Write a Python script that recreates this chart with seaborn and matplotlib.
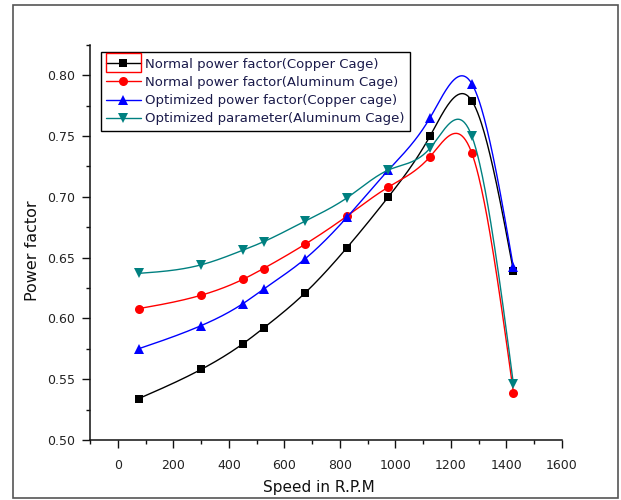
import numpy as np
import pandas as pd
import matplotlib
matplotlib.use("Agg")
import matplotlib.pyplot as plt
from matplotlib.lines import Line2D
from matplotlib.patches import Rectangle
from matplotlib.ticker import MultipleLocator
import seaborn as sns

# ---- data ----
speed = [75, 300, 450, 525, 675, 825, 975, 1125, 1275, 1425]
normal_copper = [0.534, 0.558, 0.579, 0.592, 0.621, 0.658, 0.700, 0.750, 0.779, 0.639]
normal_aluminum = [0.608, 0.619, 0.632, 0.641, 0.661, 0.684, 0.708, 0.733, 0.736, 0.539]
optimized_copper = [0.575, 0.594, 0.612, 0.624, 0.649, 0.683, 0.722, 0.765, 0.793, 0.642]
optimized_aluminum = [0.637, 0.644, 0.656, 0.663, 0.680, 0.699, 0.722, 0.740, 0.750, 0.546]

labels = ["Normal power factor(Copper Cage)",
          "Normal power factor(Aluminum Cage)",
          "Optimized power factor(Copper cage)",
          "Optimized parameter(Aluminum Cage)"]
colors = ["#000000", "#FF0000", "#0000FF", "#008080"]
markers = ["s", "o", "^", "v"]
series = [normal_copper, normal_aluminum, optimized_copper, optimized_aluminum]

x_ticks = [0, 200, 400, 600, 800, 1000, 1200, 1400, 1600]
y_ticks = [0.50, 0.55, 0.60, 0.65, 0.70, 0.75, 0.80]


def natural_spline(x, y, n=400):
    x = np.asarray(x, float)
    y = np.asarray(y, float)
    k = len(x)
    h = np.diff(x)
    A = np.zeros((k, k))
    b = np.zeros(k)
    A[0, 0] = 1
    A[-1, -1] = 1
    for i in range(1, k - 1):
        A[i, i - 1] = h[i - 1]
        A[i, i] = 2 * (h[i - 1] + h[i])
        A[i, i + 1] = h[i]
        b[i] = 6 * ((y[i + 1] - y[i]) / h[i] - (y[i] - y[i - 1]) / h[i - 1])
    M = np.linalg.solve(A, b)
    xs = np.linspace(x[0], x[-1], n)
    idx = np.clip(np.searchsorted(x, xs) - 1, 0, k - 2)
    x0, x1 = x[idx], x[idx + 1]
    hh = x1 - x0
    t0, t1 = x1 - xs, xs - x0
    ys = (M[idx] * t0 ** 3 / (6 * hh) + M[idx + 1] * t1 ** 3 / (6 * hh)
          + (y[idx] / hh - M[idx] * hh / 6) * t0
          + (y[idx + 1] / hh - M[idx + 1] * hh / 6) * t1)
    return xs, ys


sns.set_theme(style="ticks")
plt.rcParams["font.family"] = ["DejaVu Sans"]

fig = plt.figure(figsize=(6.21, 5.0), dpi=100)
ax = fig.add_axes([90 / 621, 1 - 440 / 500, 472 / 621, (440 - 44.7) / 500])

handles = []
for ys_, lab, col, mk in zip(series, labels, colors, markers):
    sx, sy = natural_spline(speed, ys_)
    smooth = pd.DataFrame({"x": sx, "y": sy})
    pts = pd.DataFrame({"x": speed, "y": ys_})
    sns.lineplot(data=smooth, x="x", y="y", ax=ax, color=col, lw=1.0,
                 sort=False, estimator=None, legend=False)
    ms = 7.0 if mk in ("^", "v") else (6.5 if mk == "o" else 6.0)
    sns.lineplot(data=pts, x="x", y="y", ax=ax, color=col, lw=0,
                 marker=mk, markersize=ms, markeredgewidth=0,
                 estimator=None, legend=False)
    handles.append(Line2D([0], [0], color=col, lw=1.0, marker=mk,
                          markersize=ms, markeredgewidth=0))

ax.set_xlim(-100, 1600)
ax.set_ylim(0.50, 0.825)
ax.set_xticks(x_ticks)
ax.set_yticks(y_ticks)
ax.set_xticklabels([str(v) for v in x_ticks])
ax.set_yticklabels([f"{v:.2f}" for v in y_ticks])
ax.xaxis.set_minor_locator(MultipleLocator(100))
ax.yaxis.set_minor_locator(MultipleLocator(0.025))

for s in ["top", "right"]:
    ax.spines[s].set_visible(False)
for s in ["left", "bottom"]:
    ax.spines[s].set_linewidth(1.1)
    ax.spines[s].set_color("#111111")

ax.tick_params(which="major", direction="out", length=5.5, width=1.0,
               labelsize=9, color="#111111", labelcolor="#222222")
ax.tick_params(axis="x", which="major", pad=8)
ax.tick_params(axis="y", which="major", pad=5)
ax.tick_params(which="minor", direction="out", length=3, width=1.0,
               color="#111111")

ax.set_xlabel("Speed in R.P.M", fontsize=11, color="#111111")
ax.set_ylabel("Power factor", fontsize=11.5, color="#111111")
ax.xaxis.set_label_coords(0.484, -0.121)
ax.xaxis.label.set_va("center")
ax.yaxis.set_label_coords(-0.121, 0.48)
ax.yaxis.label.set_va("center")

leg = ax.legend(handles, labels, loc="upper left",
                bbox_to_anchor=(0.0233, 0.9808), borderaxespad=0,
                frameon=True, fancybox=False, fontsize=9.5,
                handlelength=2.6, handletextpad=0.35, labelspacing=0.4,
                borderpad=0.4, labelcolor="#1a1a4a")
leg.get_frame().set_edgecolor("#000000")
leg.get_frame().set_linewidth(1.0)
leg.get_frame().set_alpha(1)

# outer frame around the whole figure
fig.patches.append(Rectangle((13 / 621, 2 / 500), 605 / 621, 493 / 500,
                             transform=fig.transFigure, fill=False,
                             edgecolor="#555555", lw=1.2))

# red highlight around the first legend handle
fig.canvas.draw()
hl = leg.legend_handles[0]
pix = hl.get_transform().transform(np.column_stack([hl.get_xdata(), hl.get_ydata()]))
x0p, x1p = pix[:, 0].min(), pix[:, 0].max()
ycp = pix[:, 1].mean()
fig.patches.append(Rectangle((x0p, ycp - 9.5), x1p - x0p, 19,
                             transform=None, fill=False,
                             edgecolor="#FF0000", lw=1.0))

fig.savefig("out.png", dpi=100)
